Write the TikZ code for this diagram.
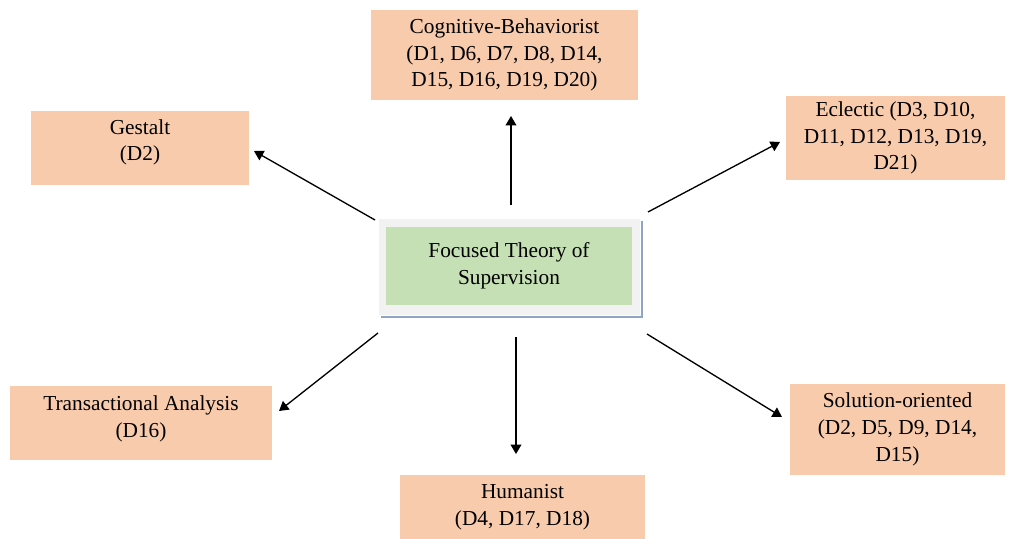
\documentclass[tikz,border=0pt]{standalone}
\usepackage{fontspec}
\setmainfont{Liberation Serif}
\usetikzlibrary{shadows,arrows.meta}
\definecolor{peach}{HTML}{F8CBAD}
\definecolor{leaf}{HTML}{C5E0B4}
\definecolor{frame}{HTML}{F2F2F2}
\definecolor{shade}{HTML}{8FA5C4}
\begin{document}
\begin{tikzpicture}[x=0.75pt,y=-0.75pt,font=\fontsize{16}{20}\selectfont, line join=round, >={Triangle[length=7pt,width=8pt]}]
\tikzset{box/.style={fill=peach,align=center,inner sep=0pt},
  arr/.style={->,line width=1pt}}
\useasboundingbox (0,0) rectangle (1015,539);
% theories
\node[box,minimum width=267*0.75pt,minimum height=90*0.75pt] (cog) at (504.5,55) {Cognitive-Behaviorist\\(D1, D6, D7, D8, D14,\\D15, D16, D19, D20)};
\node[box,minimum width=218*0.75pt,minimum height=74*0.75pt,text depth=12pt] (ges) at (140,148) {Gestalt\\(D2)};
\node[box,minimum width=219*0.75pt,minimum height=84*0.75pt] (ecl) at (895.5,138) {Eclectic (D3, D10,\\D11, D12, D13, D19,\\D21)};
\node[box,minimum width=262*0.75pt,minimum height=74*0.75pt,text depth=10pt] (tra) at (141,423) {Transactional Analysis\\(D16)};
\node[box,minimum width=245*0.75pt,minimum height=64*0.75pt] (hum) at (522.5,507) {Humanist\\(D4, D17, D18)};
\node[box,minimum width=215*0.75pt,minimum height=91*0.75pt] (sol) at (897.5,429.5) {Solution-oriented\\(D2, D5, D9, D14,\\D15)};
% centre
\node[fill=frame,draw=white,line width=0.6pt,minimum width=262*0.75pt,minimum height=97*0.75pt,
  drop shadow={shadow xshift=2.5pt,shadow yshift=-2.5pt,fill=shade,opacity=1}] (out) at (509,266.5) {};
\node[fill=leaf,align=center,minimum width=246*0.75pt,minimum height=78*0.75pt,inner sep=0pt] (cen) at (509,266) {Focused Theory of\\Supervision};
% arrow ends
\coordinate (g0) at (375,220); \coordinate (g1) at (254,151);
\coordinate (c0) at (511,205); \coordinate (c1) at (511,116);
\coordinate (e0) at (648,212); \coordinate (e1) at (780,142);
\coordinate (t0) at (378,333); \coordinate (t1) at (279,411);
\coordinate (h0) at (516,337); \coordinate (h1) at (516,454);
\coordinate (s0) at (647,334); \coordinate (s1) at (782,417);
\foreach \a in {g,c,e,t,h,s}{
\draw[arr] (\a0)--(\a1);
}
\end{tikzpicture}
\end{document}
